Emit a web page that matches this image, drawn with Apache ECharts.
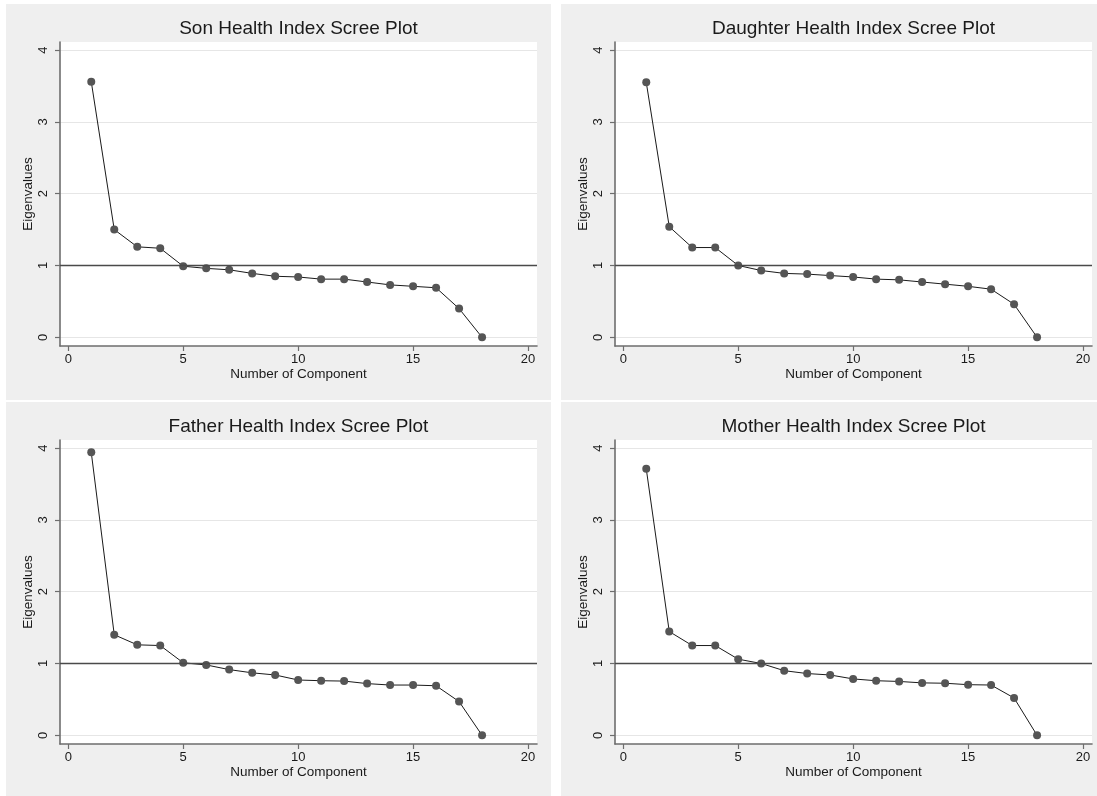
<!DOCTYPE html>
<html>
<head>
<meta charset="utf-8">
<script src="https://cdn.jsdelivr.net/npm/echarts@6/dist/echarts.min.js"></script>
<style>
html,body{margin:0;padding:0;background:#ffffff;}
#chart{width:1097px;height:796px;}
</style>
</head>
<body>
<div id="chart"></div>
<script>
// ---- data ----
var components = [1,2,3,4,5,6,7,8,9,10,11,12,13,14,15,16,17,18];
var titles = ["Son Health Index Scree Plot","Daughter Health Index Scree Plot","Father Health Index Scree Plot","Mother Health Index Scree Plot"];
var sonEigen = [3.56,1.50,1.26,1.24,0.99,0.96,0.94,0.89,0.85,0.84,0.81,0.81,0.77,0.73,0.71,0.69,0.40,0.00];
var daughterEigen = [3.55,1.54,1.25,1.25,1.00,0.93,0.89,0.88,0.86,0.84,0.81,0.80,0.77,0.74,0.71,0.67,0.46,0.00];
var fatherEigen = [3.94,1.40,1.26,1.25,1.01,0.98,0.915,0.87,0.84,0.77,0.76,0.755,0.72,0.70,0.70,0.69,0.47,0.00];
var motherEigen = [3.71,1.445,1.25,1.25,1.06,1.00,0.90,0.86,0.84,0.785,0.76,0.75,0.73,0.725,0.705,0.70,0.52,0.00];
var xTicks = [0,5,10,15,20];
var yTicks = [0,1,2,3,4];
var refLine = 1;
var xName = "Number of Component";
var yName = "Eigenvalues";

var allSeries = [sonEigen, daughterEigen, fatherEigen, motherEigen];

// ---- layout ----
var FONT = "Liberation Sans, Arial, sans-serif";
var grids = [
  {left:60, top:42, width:477, height:304},
  {left:615, top:42, width:477, height:304},
  {left:60, top:440, width:477, height:304},
  {left:615, top:440, width:477, height:304}
];
var panels = [
  {x:6, y:4, w:545, h:396},
  {x:561, y:4, w:536, h:396},
  {x:6, y:402, w:545, h:394},
  {x:561, y:402, w:536, h:394}
];

var option = {
  animation:false,
  backgroundColor:'#ffffff',
  textStyle:{fontFamily:FONT},
  graphic: panels.map(function(p){
    return {type:'rect', shape:{x:p.x,y:p.y,width:p.w,height:p.h}, style:{fill:'#efefef'}, z:-10, silent:true};
  }),
  title: titles.map(function(t,i){
    return {text:t, left:grids[i].left + grids[i].width/2 - 5, top:grids[i].top - 28, textAlign:'center',
      textStyle:{fontFamily:FONT, fontSize:19, fontWeight:'normal', color:'#1a1a1a'}};
  }),
  grid: grids.map(function(g){
    return {left:g.left, top:g.top, width:g.width, height:g.height, show:true, backgroundColor:'#ffffff', borderWidth:0, containLabel:false};
  }),
  xAxis: grids.map(function(g,i){
    return {type:'value', gridIndex:i, min:-0.36, max:20.39,
      name:xName, nameLocation:'middle', nameGap:21, nameMoveOverlap:false,
      nameTextStyle:{fontFamily:FONT, fontSize:13.5, color:'#1a1a1a', verticalAlign:'top'},
      axisLine:{show:true, onZero:false, lineStyle:{color:'#6e6e6e', width:1.6}},
      axisTick:{show:true, length:5, customValues:xTicks, lineStyle:{color:'#6e6e6e', width:1.2}},
      axisLabel:{customValues:xTicks, margin:7, fontFamily:FONT, fontSize:13, color:'#1a1a1a', showMinLabel:true, showMaxLabel:true},
      splitLine:{show:false}
    };
  }),
  yAxis: grids.map(function(g,i){
    return {type:'value', gridIndex:i, min:-0.121, max:4.112,
      name:yName, nameLocation:'middle', nameGap:25, nameMoveOverlap:false,
      nameTextStyle:{fontFamily:FONT, fontSize:13.5, color:'#1a1a1a', verticalAlign:'bottom'},
      axisLine:{show:true, onZero:false, lineStyle:{color:'#6e6e6e', width:1.6}},
      axisTick:{show:true, length:5, customValues:yTicks, lineStyle:{color:'#6e6e6e', width:1.2}},
      axisLabel:{customValues:yTicks, rotate:90, margin:10, fontFamily:FONT, fontSize:13, color:'#1a1a1a'},
      splitLine:{show:true, customValues:yTicks, lineStyle:{color:'#e6e6e6', width:1.2}}
    };
  }),
  series: allSeries.map(function(vals,i){
    return {type:'line', xAxisIndex:i, yAxisIndex:i,
      data: components.map(function(c,k){ return [c, vals[k]]; }),
      symbol:'circle', symbolSize:8,
      itemStyle:{color:'#555555'},
      lineStyle:{color:'#1a1a1a', width:1},
      markLine:{silent:true, symbol:['none','none'], label:{show:false},
        lineStyle:{color:'#4a4a4a', width:1.4, type:'solid'},
        data:[{yAxis:refLine}]},
      z:3
    };
  })
};

var chart = echarts.init(document.getElementById('chart'), null, {renderer:'canvas'});
chart.setOption(option);
</script>
</body>
</html>
